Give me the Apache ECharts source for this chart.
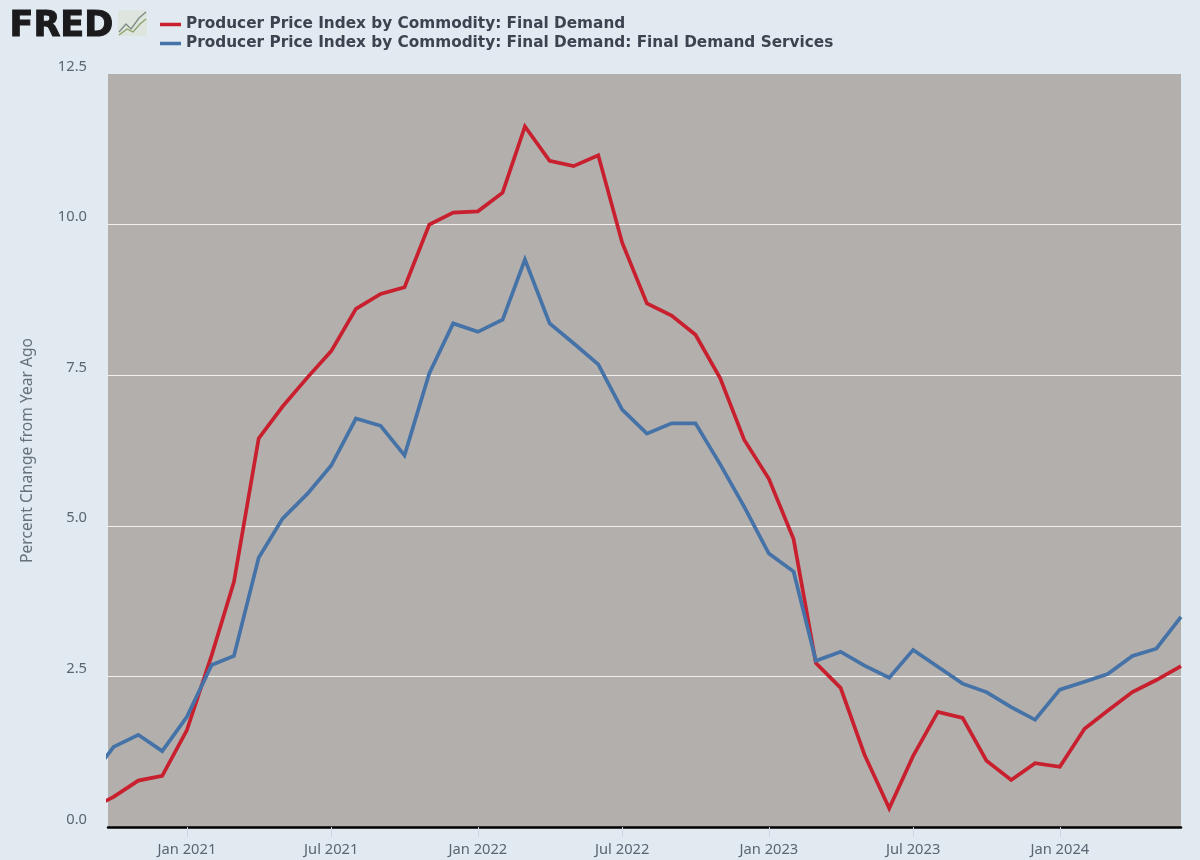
<!DOCTYPE html>
<html>
<head>
<meta charset="utf-8">
<style>
  html, body { margin: 0; padding: 0; background: #e1e9f1; }
  #chart { width: 1200px; height: 860px; }
</style>
</head>
<body>
<div id="chart"></div>
<script src="https://cdn.jsdelivr.net/npm/echarts@6/dist/echarts.min.js"></script>
<script>
const months = [
  "2020-09-01", "2020-10-01", "2020-11-01", "2020-12-01",
  "2021-01-01", "2021-02-01", "2021-03-01", "2021-04-01", "2021-05-01", "2021-06-01",
  "2021-07-01", "2021-08-01", "2021-09-01", "2021-10-01", "2021-11-01", "2021-12-01",
  "2022-01-01", "2022-02-01", "2022-03-01", "2022-04-01", "2022-05-01", "2022-06-01",
  "2022-07-01", "2022-08-01", "2022-09-01", "2022-10-01", "2022-11-01", "2022-12-01",
  "2023-01-01", "2023-02-01", "2023-03-01", "2023-04-01", "2023-05-01", "2023-06-01",
  "2023-07-01", "2023-08-01", "2023-09-01", "2023-10-01", "2023-11-01", "2023-12-01",
  "2024-01-01", "2024-02-01", "2024-03-01", "2024-04-01", "2024-05-01", "2024-06-01"
];
const finalDemand = [
  0.3, 0.5, 0.77, 0.85,
  1.61, 2.85, 4.07, 6.45, 6.98, 7.46,
  7.9, 8.6, 8.85, 8.96, 10.0, 10.2,
  10.22, 10.53, 11.63, 11.06, 10.97, 11.15,
  9.7, 8.69, 8.49, 8.17, 7.45, 6.43,
  5.78, 4.78, 2.72, 2.31, 1.2, 0.31,
  1.18, 1.91, 1.81, 1.1, 0.78, 1.06,
  1.0, 1.63, 1.93, 2.24, 2.44, 2.67
];
const finalDemandServices = [
  0.8, 1.33, 1.53, 1.26,
  1.83, 2.69, 2.84, 4.47, 5.12, 5.53,
  6.0, 6.78, 6.66, 6.17, 7.53, 8.36,
  8.22, 8.42, 9.42, 8.36, 8.03, 7.68,
  6.93, 6.53, 6.7, 6.7, 6.02, 5.32,
  4.54, 4.24, 2.76, 2.91, 2.68, 2.48,
  2.94, 2.66, 2.38, 2.24, 1.99, 1.78,
  2.28, 2.41, 2.54, 2.84, 2.96, 3.49
];
const tickDates = ["2021-01-01", "2021-07-01", "2022-01-01", "2022-07-01", "2023-01-01", "2023-07-01", "2024-01-01"];
const tickLabels = ["Jan 2021", "Jul 2021", "Jan 2022", "Jul 2022", "Jan 2023", "Jul 2023", "Jan 2024"];

// plain value axis over timestamps, so the ticks can sit on the Jan/Jul dates
const toTime = (s) => Date.parse(s);
const tickTimes = tickDates.map(toTime);
const font = "'Noto Sans', sans-serif";

const chart = echarts.init(document.getElementById("chart"));

chart.setOption({
  animation: false,
  backgroundColor: "#e1e9f1",
  grid: {
    left: 108,
    right: 19,
    top: 74,
    bottom: 33,
    show: true,
    backgroundColor: "#b3afad",
    borderWidth: 0,
  },
  legend: {
    left: 155,
    top: 10,
    orient: "vertical",
    icon: "rect",
    itemWidth: 21,
    itemHeight: 3.5,
    itemGap: 0,
    textStyle: {
      fontFamily: "'DejaVu Sans', sans-serif",
      fontWeight: 700,
      fontSize: 15.3,
      lineHeight: 19,
      color: "#3d4450",
    },
  },
  xAxis: {
    type: "value",
    min: toTime("2020-09-24"),
    max: toTime("2024-06-01"),
    axisLine: { lineStyle: { color: "#000", width: 2.5 } },
    axisTick: { show: true, customValues: tickTimes, length: 10, lineStyle: { color: "#cdd6de", width: 1 } },
    splitLine: { show: false },
    axisLabel: {
      customValues: tickTimes,
      hideOverlap: false,
      margin: 15,
      fontFamily: font,
      fontSize: 14.7,
      color: "#5a6672",
      formatter: (v) => tickLabels[tickTimes.indexOf(v)],
    },
  },
  yAxis: {
    type: "value",
    min: 0,
    max: 12.5,
    interval: 2.5,
    name: "Percent Change from Year Ago",
    nameLocation: "middle",
    nameGap: 72,
    nameTextStyle: { fontFamily: font, fontSize: 15.6, color: "#66717c" },
    axisLine: { show: false },
    axisTick: { show: false },
    splitLine: { showMaxLine: false, lineStyle: { color: "#f1f0ee", width: 1.2 } },
    axisLabel: {
      margin: 21,
      verticalAlign: "bottom",
      fontFamily: font,
      fontSize: 14.7,
      color: "#5a6672",
      formatter: (v) => v.toFixed(1),
    },
  },
  series: [
    {
      name: "Producer Price Index by Commodity: Final Demand",
      type: "line",
      showSymbol: false,
      color: "#c8202e",
      lineStyle: { width: 3.7, join: "miter" },
      data: months.map((m, i) => [toTime(m), finalDemand[i]]),
    },
    {
      name: "Producer Price Index by Commodity: Final Demand: Final Demand Services",
      type: "line",
      showSymbol: false,
      color: "#4572a7",
      lineStyle: { width: 3.7, join: "miter" },
      data: months.map((m, i) => [toTime(m), finalDemandServices[i]]),
    },
  ],
  // FRED logo
  graphic: [
    {
      type: "text",
      left: 9,
      top: 9,
      style: {
        text: "FRED",
        fontFamily: "'DejaVu Sans', sans-serif",
        fontWeight: 900,
        fontSize: 35,
        fill: "#1b1b1d",
        stroke: "#1b1b1d",
        lineWidth: 1,
      },
    },
    {
      type: "rect",
      shape: { x: 118, y: 10, width: 29, height: 26, r: 2 },
      style: { fill: "#dde5de" },
    },
    {
      type: "polyline",
      shape: { points: [[119, 32], [126, 24], [131, 29], [139, 18], [146, 12]] },
      style: { fill: null, stroke: "#7b8b80", lineWidth: 1.3 },
    },
    {
      type: "polyline",
      shape: { points: [[119, 35], [127, 29], [133, 32], [140, 24], [146, 19]] },
      style: { fill: null, stroke: "#8ba36a", lineWidth: 1.3 },
    },
  ],
});
</script>
</body>
</html>
